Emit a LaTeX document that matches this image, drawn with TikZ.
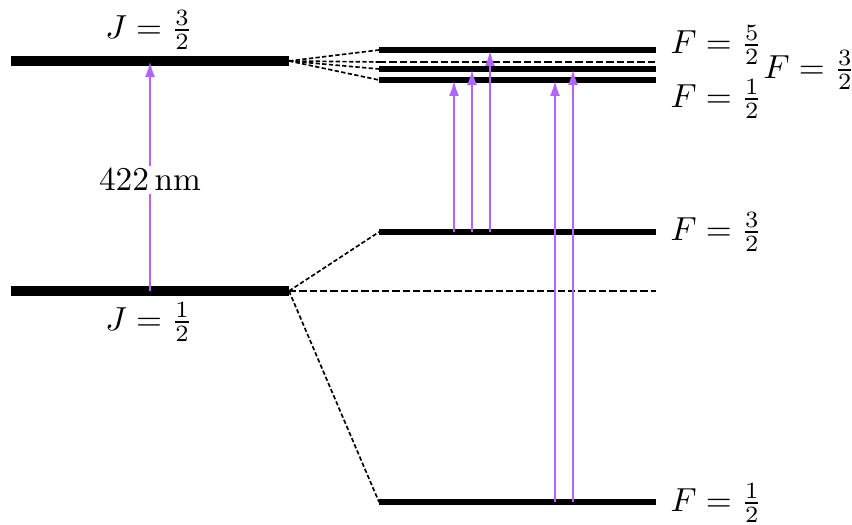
\documentclass[tikz,border=0pt]{standalone}
\usetikzlibrary{arrows.meta}
\definecolor{trans}{RGB}{178,102,255}
\begin{document}
\begin{tikzpicture}[x=0.3pt,y=-0.3pt,
 thicklevel/.style={line width=3pt},
 level/.style={line width=1.8pt},
 split/.style={line width=0.5pt, dash pattern=on 1.3pt off 0.7pt},
 hsplit/.style={line width=0.45pt, dash pattern=on 2.2pt off 0.9pt},
 transition/.style={trans, line width=0.4pt, -{Latex[length=4.5pt,width=3pt]}},
 lbl/.style={inner sep=0pt, anchor=west}]
\useasboundingbox (0,0) rectangle (852,525);
% fine-structure levels
\coordinate (J32l) at (11,61);  \coordinate (J32r) at (289,61);
\coordinate (J12l) at (11,291); \coordinate (J12r) at (289,291);
\draw[thicklevel] (J32l) -- (J32r);
\draw[thicklevel] (J12l) -- (J12r);
% hyperfine levels
\coordinate (F52l) at (379,50);  \coordinate (F52r) at (656,50);
\coordinate (Fc32l) at (379,69); \coordinate (Fc32r) at (656,69);
\coordinate (Fc12l) at (379,80); \coordinate (Fc12r) at (656,80);
\coordinate (Fu)   at (379,62);  \coordinate (Fue)  at (656,62);
\coordinate (F32l) at (379,232); \coordinate (F32r) at (656,232);
\coordinate (G0)   at (656,291);
\coordinate (F12l) at (379,502); \coordinate (F12r) at (656,502);
\draw[level] (F52l) -- (F52r);
\draw[level] (Fc32l) -- (Fc32r);
\draw[level] (Fc12l) -- (Fc12r);
\draw[level] (F32l) -- (F32r);
\draw[level] (F12l) -- (F12r);
% splitting connectors
\draw[split] (J32r) -- (F52l);
\draw[split] (J32r) -- (Fu);
\draw[hsplit] (Fu) -- (Fue);
\draw[split] (J32r) -- (Fc32l);
\draw[split] (J32r) -- (Fc12l);
\draw[split] (J12r) -- (F32l);
\draw[hsplit] (J12r) -- (G0);
\draw[split] (J12r) -- (F12l);
% labels
\node (lJ32) at (149,30) {$J=\frac{3}{2}$};
\node (lJ12) at (149,322) {$J=\frac{1}{2}$};
\node[lbl] (lF52) at (670,45) {$F=\frac{5}{2}$};
\node[lbl] (lFc12) at (670,99) {$F=\frac{1}{2}$};
\node[lbl] (lFc32) at (763,70) {$F=\frac{3}{2}$};
\node[lbl] (lF32) at (670,232) {$F=\frac{3}{2}$};
\node[lbl] (lF12) at (670,503) {$F=\frac{1}{2}$};
% transitions
\coordinate (a0s) at (150,291); \coordinate (a0t) at (150,62);
\draw[transition] (a0s) -- (a0t);
\node[fill=white, inner sep=1pt] (nm) at (150,180) {$422\,\mathrm{nm}$};
\coordinate (a1s) at (454,232); \coordinate (a1t) at (454,81);
\coordinate (a2s) at (472,232); \coordinate (a2t) at (472,70);
\coordinate (a3s) at (490,232); \coordinate (a3t) at (490,51);
\coordinate (b1s) at (555,502); \coordinate (b1t) at (555,81);
\coordinate (b2s) at (573,502); \coordinate (b2t) at (573,70);
\draw[transition] (a1s) -- (a1t);
\draw[transition] (a2s) -- (a2t);
\draw[transition] (a3s) -- (a3t);
\draw[transition] (b1s) -- (b1t);
\draw[transition] (b2s) -- (b2t);
\end{tikzpicture}
\end{document}
